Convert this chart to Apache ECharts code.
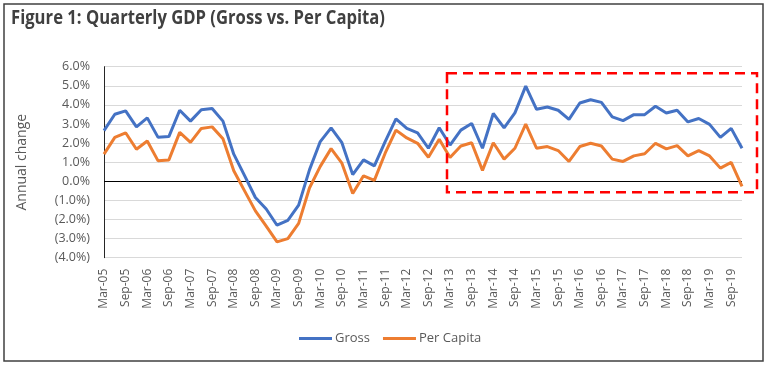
<!DOCTYPE html>
<html>
<head>
<meta charset="utf-8">
<script src="https://cdn.jsdelivr.net/npm/echarts@6/dist/echarts.min.js"></script>
<style>
html,body{margin:0;padding:0;background:#fff;}
#c{width:768px;height:370px;}
</style>
</head>
<body>
<div id="c"></div>
<script>
// Quarterly categories Mar-05 .. Dec-19
var months = ['Mar','Jun','Sep','Dec'];
var years = ['05','06','07','08','09','10','11','12','13','14','15','16','17','18','19'];
var categories = [];
years.forEach(function(y){ months.forEach(function(m){ categories.push(m + '-' + y); }); });

var gross = [2.65,3.51,3.69,2.85,3.32,2.30,2.34,3.72,3.15,3.75,3.81,3.15,
             1.42,0.30,-0.85,-1.45,-2.30,-2.04,-1.25,0.60,2.08,2.80,2.02,0.35,
             1.12,0.81,2.08,3.27,2.77,2.54,1.73,2.80,1.90,2.68,3.03,1.73,
             3.55,2.80,3.58,4.98,3.77,3.89,3.72,3.24,4.10,4.27,4.13,3.37,
             3.18,3.49,3.49,3.93,3.58,3.72,3.11,3.29,2.98,2.30,2.77,1.73];
var perCapita = [1.42,2.30,2.54,1.68,2.11,1.07,1.12,2.56,2.04,2.77,2.85,2.23,
                 0.55,-0.50,-1.55,-2.35,-3.17,-3.00,-2.20,-0.35,0.78,1.71,0.95,-0.64,
                 0.29,0.05,1.47,2.68,2.27,1.99,1.26,2.20,1.25,1.85,2.02,0.57,
                 2.02,1.16,1.73,2.99,1.73,1.82,1.61,1.04,1.82,1.99,1.85,1.16,
                 1.04,1.33,1.44,1.99,1.70,1.87,1.33,1.61,1.33,0.69,0.99,-0.26];
var seriesNames = ['Gross','Per Capita'];
var titleText = 'Figure 1: Quarterly GDP (Gross vs. Per Capita)';
var yTitle = 'Annual change';

var titleFont = 'bold 20px "Open Sans", sans-serif';
var cv = document.createElement('canvas').getContext('2d');
cv.font = titleFont;
var tw = cv.measureText(titleText).width || 375;
var titleScale = 374 / tw;

var chart = echarts.init(document.getElementById('c'), null, {renderer:'canvas'});
var labelFont = '"Open Sans", sans-serif';
chart.setOption({
  animation:false,
  backgroundColor:'#fff',
  grid:{left:104, right:26, top:66.7, bottom:112.3, containLabel:false},
  legend:{
    data:seriesNames, bottom:20, left:294, itemWidth:33, itemHeight:3, itemGap:13,
    icon:'rect',
    textStyle:{fontFamily:labelFont, fontSize:13, color:'#595959', padding:[0,0,0,-2]}
  },
  xAxis:{
    type:'category', data:categories, boundaryGap:false,
    axisLine:{show:false}, axisTick:{show:false},
    axisLabel:{interval:1, rotate:90, margin:11, fontFamily:labelFont, fontSize:12, color:'#595959'}
  },
  yAxis:{
    type:'value', min:-4, max:6, interval:1,
    name:yTitle, nameLocation:'middle', nameGap:75, nameRotate:90,
    nameTextStyle:{fontFamily:labelFont, fontSize:14, color:'#595959'},
    axisLine:{show:true, lineStyle:{color:'#262626', width:1}},
    axisTick:{show:false},
    axisLabel:{margin:14, fontFamily:labelFont, fontSize:12.5, color:'#595959',
      formatter:function(v){ return v < 0 ? '(' + Math.abs(v).toFixed(1) + '%)' : v.toFixed(1) + '%'; }},
    splitLine:{lineStyle:{color:'#D9D9D9', width:1}}
  },
  series:[
    {name:seriesNames[0], type:'line', data:gross, symbol:'none', smooth:false,
     lineStyle:{color:'#4472C4', width:3}, itemStyle:{color:'#4472C4'}, z:3,
     markLine:{silent:true, symbol:'none', label:{show:false},
       lineStyle:{color:'#000', width:1, type:'solid'}, data:[{yAxis:0}], z:1}},
    {name:seriesNames[1], type:'line', data:perCapita, symbol:'none', smooth:false,
     lineStyle:{color:'#ED7D31', width:3}, itemStyle:{color:'#ED7D31'}, z:4}
  ],
  graphic:[
    {type:'rect', shape:{x:4, y:4, width:759, height:357}, silent:true, z:-1,
     style:{fill:null, stroke:'#404040', lineWidth:1.5}},
    {type:'text', x:11, y:8, scaleX:titleScale, silent:true, z:10,
     style:{text:titleText, font:titleFont, fill:'#404040', textVerticalAlign:'top'}},
    {type:'rect', shape:{x:447, y:73.3, width:310, height:119}, silent:true, z:10,
     style:{fill:null, stroke:'#FF0000', lineWidth:2.5, lineDash:[10,6]}}
  ]
});
</script>
</body>
</html>
